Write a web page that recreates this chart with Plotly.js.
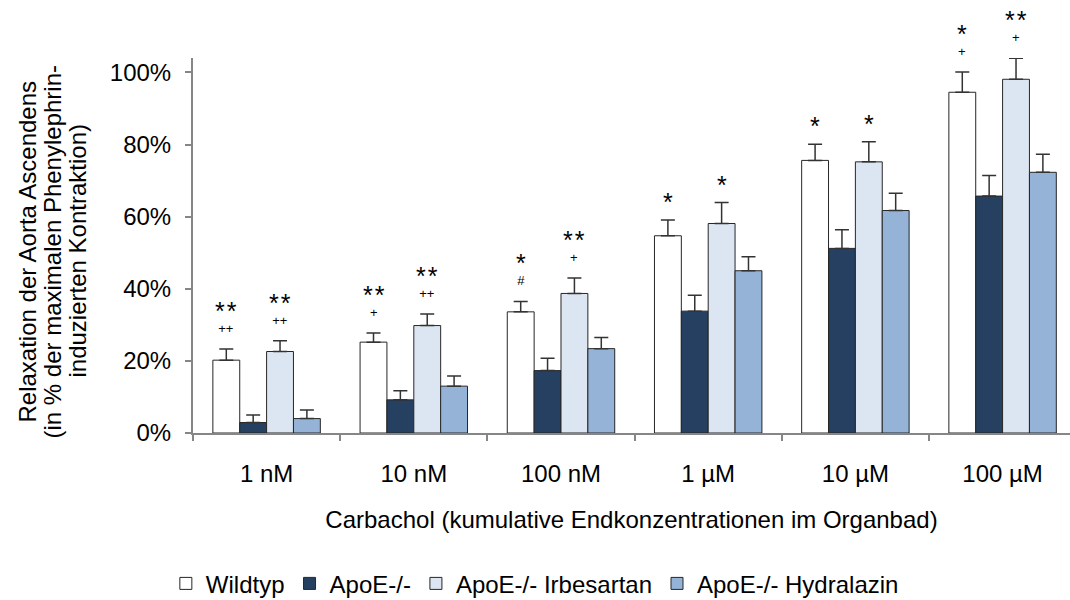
<!DOCTYPE html>
<html>
<head>
<meta charset="utf-8">
<script src="https://cdn.plot.ly/plotly-3.0.1.min.js"></script>
<style>html,body{margin:0;padding:0;background:#fff;}#chart{width:1070px;height:600px;}</style>
</head>
<body>
<div id="chart"></div>
<script>
const categories = ['1 nM', '10 nM', '100 nM', '1 µM', '10 µM', '100 µM'];
const seriesNames = ['Wildtyp', 'ApoE-/-', 'ApoE-/- Irbesartan', 'ApoE-/- Hydralazin'];
const wildtyp     = [20.2, 25.2, 33.6, 54.7, 75.6, 94.5];
const wildtypErr  = [3.1, 2.5, 2.9, 4.4, 4.5, 5.6];
const apoe        = [2.9, 9.2, 17.3, 33.8, 51.2, 65.7];
const apoeErr     = [2.1, 2.5, 3.4, 4.4, 5.2, 5.7];
const irbesartan  = [22.6, 29.8, 38.7, 58.1, 75.2, 98.1];
const irbesartanErr = [3.0, 3.2, 4.3, 5.8, 5.6, 5.8];
const hydralazin  = [4.0, 13.0, 23.4, 45.0, 61.7, 72.3];
const hydralazinErr = [2.4, 2.8, 3.1, 3.9, 4.8, 5.0];
// significance marks above Wildtyp and Irbesartan bars
const starWild  = ['**', '**', '*', '*', '*', '*'];
const markWild  = ['++', '+', '#', '', '', '+'];
const starIrb   = ['**', '**', '**', '*', '*', '**'];
const markIrb   = ['++', '++', '+', '', '', '+'];
const yTickVals = [0, 20, 40, 60, 80, 100];
const yTickText = ['0%', '20%', '40%', '60%', '80%', '100%'];
const yTitleLines = ['Relaxation der Aorta Ascendens', '(in % der maximalen Phenylephrin-', 'induzierten Kontraktion)'];
const xTitle = 'Carbachol (kumulative Endkonzentrationen im Organbad)';

const FONT = 'Liberation Sans, Arial, sans-serif';
const colors = ['#FFFFFF', '#254061', '#DCE6F2', '#95B3D7'];
const values = [wildtyp, apoe, irbesartan, hydralazin];
const errs = [wildtypErr, apoeErr, irbesartanErr, hydralazinErr];

const bargap = 0.27;
const barW = (1 - bargap) / 4;

const traces = values.map((v, i) => ({
  type: 'bar',
  name: seriesNames[i],
  x: categories,
  y: v,
  marker: {color: colors[i], line: {color: '#262626', width: 1}},
  error_y: {type: 'data', array: errs[i], arrayminus: v.map(() => 0), symmetric: false,
            color: '#333333', thickness: 1.5, width: 7},
  cliponaxis: false
}));

const annotations = [];
function addMarks(stars, marks, vals, er, idx) {
  const off = (idx - 1.5) * barW;
  for (let k = 0; k < categories.length; k++) {
    const top = vals[k] + er[k];
    const starTxt = '<span style="font-size:25px">' + stars[k].split('').join('\u200A') + '</span>';
    const hasMark = marks[k] !== '';
    const text = hasMark ? starTxt + '<br><span style="font-size:13px">' + marks[k] + '</span>' : starTxt;
    annotations.push({x: k + off, y: top, xref: 'x', yref: 'y', text: text, showarrow: false,
      yanchor: 'bottom', yshift: hasMark ? 11 : 2, font: {family: FONT, size: 10, color: '#000'}});
  }
}
addMarks(starWild, markWild, wildtyp, wildtypErr, 0);
addMarks(starIrb, markIrb, irbesartan, irbesartanErr, 2);

// y-axis title as three tightly spaced rotated lines
const lineX = [-166, -141, -116];
yTitleLines.forEach((t, i) => annotations.push({
  x: 0, y: 0.484, xref: 'paper', yref: 'paper', text: t, showarrow: false, textangle: -90,
  xanchor: 'center', yanchor: 'middle', xshift: lineX[i], font: {family: FONT, size: 24, color: '#000'}
}));

const layout = {
  width: 1070, height: 600,
  margin: {l: 193, r: 0, t: 58, b: 167},
  paper_bgcolor: '#fff', plot_bgcolor: '#fff',
  font: {family: FONT, size: 24, color: '#000'},
  barmode: 'group', bargap: bargap, bargroupgap: 0,
  showlegend: true,
  legend: {orientation: 'h', xref: 'container', yref: 'container', x: 0.155, xanchor: 'left',
           y: 0.027, yanchor: 'middle',
           font: {family: FONT, size: 24, color: '#000'}, itemwidth: 30, traceorder: 'normal'},
  xaxis: {
    type: 'category', range: [-0.5, 5.458], showline: true, linecolor: '#868686', linewidth: 2,
    ticks: 'outside', tickson: 'boundaries', ticklen: 6, tickcolor: '#868686', tickwidth: 2,
    showgrid: false, zeroline: false, tickfont: {size: 24}, ticklabelstandoff: 18,
    title: {text: xTitle, font: {size: 24}, standoff: 25}
  },
  yaxis: {
    range: [0, 104], tickvals: yTickVals, ticktext: yTickText,
    showline: true, linecolor: '#868686', linewidth: 2, ticks: 'outside', ticklen: 6,
    tickcolor: '#868686', tickwidth: 2, showgrid: false, zeroline: false, tickfont: {size: 24},
    ticklabelstandoff: 9
  },
  annotations: annotations
};

Plotly.newPlot('chart', traces, layout, {displayModeBar: false, staticPlot: true});
</script>
</body>
</html>
